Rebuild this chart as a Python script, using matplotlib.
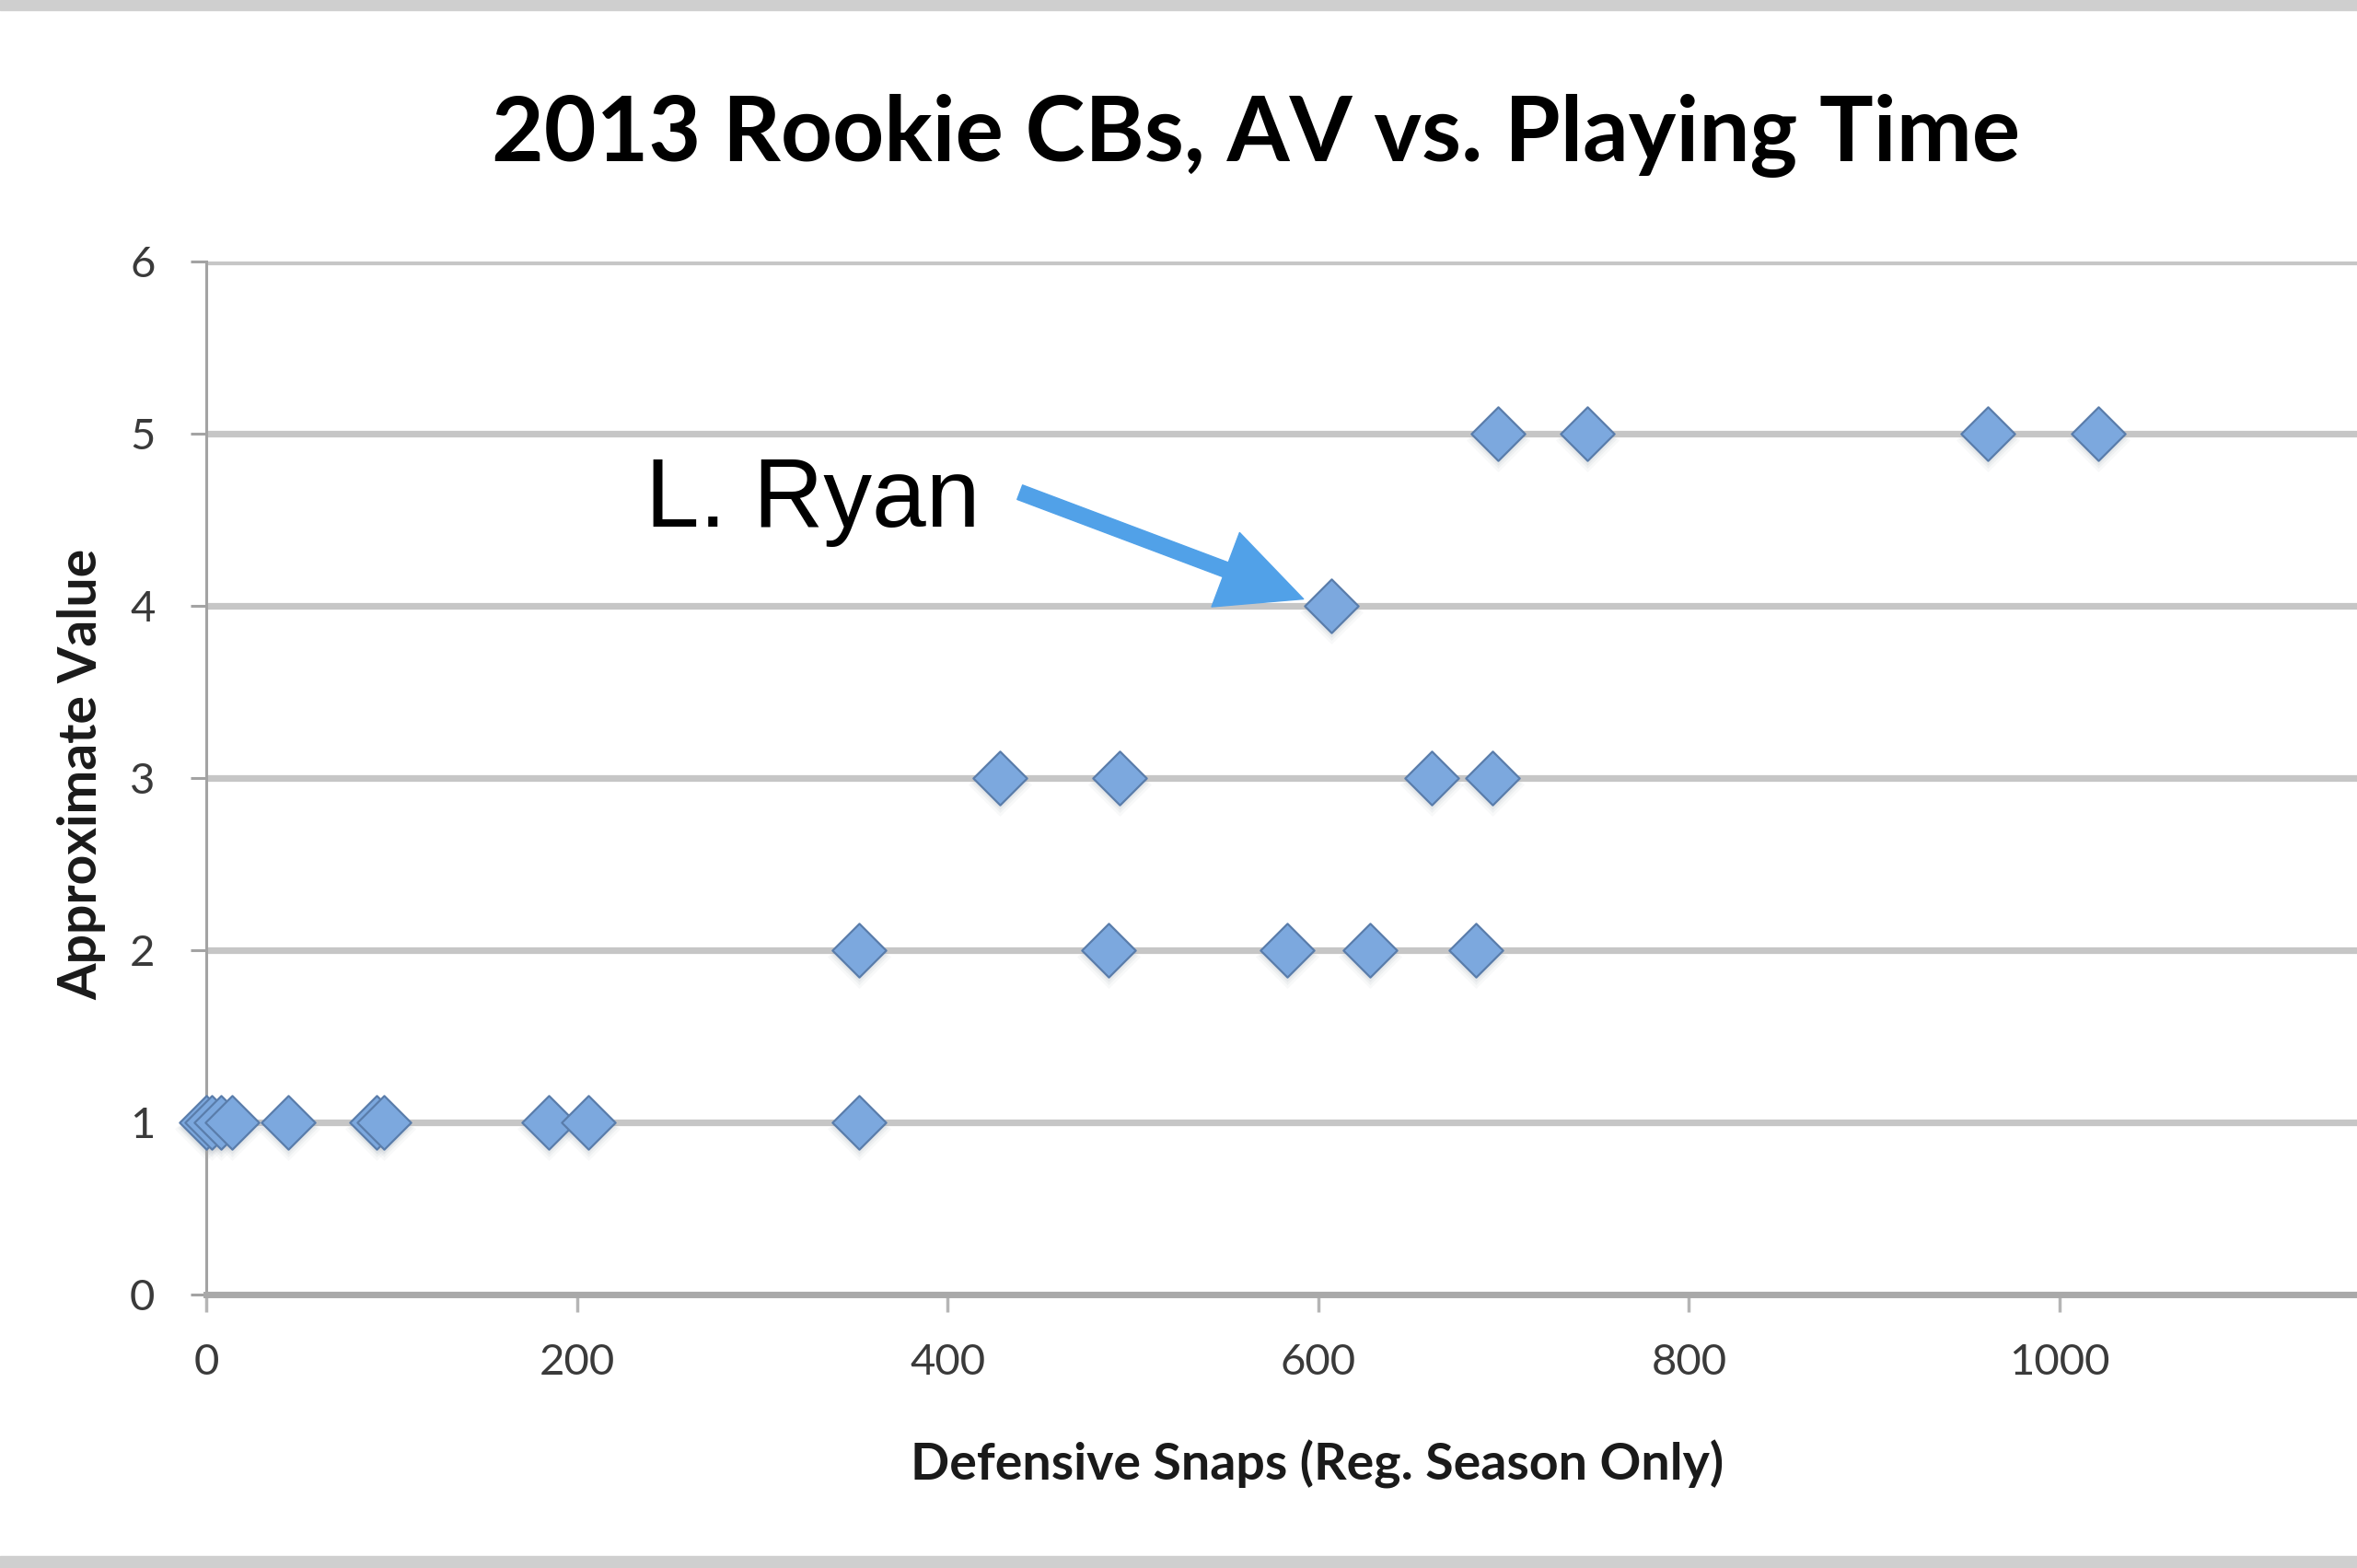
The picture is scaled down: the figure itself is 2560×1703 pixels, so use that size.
import matplotlib
matplotlib.use("Agg")
import matplotlib.pyplot as plt
from matplotlib.path import Path
from matplotlib.transforms import offset_copy
import matplotlib.patches as mpatches

# ---- data ----
snaps = [0, 3, 8, 14, 44, 92, 96, 185, 206, 352,
         352, 487, 583, 628, 685,
         428, 493, 661, 694,
         607,
         697, 745, 961, 1021]
av = [1, 1, 1, 1, 1, 1, 1, 1, 1, 1,
      2, 2, 2, 2, 2,
      3, 3, 3, 3,
      4,
      5, 5, 5, 5]
x_ticks = [0, 200, 400, 600, 800, 1000]
y_ticks = [0, 1, 2, 3, 4, 5, 6]
title = "2013 Rookie CBs, AV vs. Playing Time"
xlabel = "Defensive Snaps (Reg. Season Only)"
ylabel = "Approximate Value"
note_text = "L. Ryan"
note_target = (607, 4)

fig = plt.figure(figsize=(25.6, 17.03), dpi=100)
fig.patch.set_facecolor("white")

# grey frame bands top & bottom
fig.patches.append(mpatches.Rectangle((0, 1 - 11 / 1703), 1, 11 / 1703, transform=fig.transFigure,
                                      color="#cfcfcf", zorder=0))
fig.patches.append(mpatches.Rectangle((0, 0), 1, 13 / 1703, transform=fig.transFigure,
                                      color="#cfcfcf", zorder=0))

ax = fig.add_axes([0.0875, 0.1744, 0.9436, 0.6588])
ax.set_xlim(0, 1200)
ax.set_ylim(0, 6)
ax.set_xticks(x_ticks)
ax.set_yticks(y_ticks)
ax.set_xticklabels([str(t) for t in x_ticks])
ax.set_yticklabels([str(t) for t in y_ticks])

ax.grid(axis="y", color="#c6c6c6", linewidth=5.2, zorder=0)
ax.grid(axis="x", visible=False)
ax.set_axisbelow(True)
for s in ["top", "right"]:
    ax.spines[s].set_visible(False)
ax.spines["bottom"].set_color("#a9a9a9")
ax.spines["bottom"].set_linewidth(5.0)
ax.spines["left"].set_color("#a3a3a3")
ax.spines["left"].set_linewidth(2.2)

ax.tick_params(axis="y", length=12, width=2.2, color="#a3a3a3", pad=28)
ax.tick_params(axis="x", length=14, width=2.5, color="#b5b5b5", pad=24)
for lab in ax.get_xticklabels() + ax.get_yticklabels():
    lab.set_fontfamily("Lato")
    lab.set_fontsize(34)
    lab.set_color("#3a3a3a")

# diamond marker
diamond = Path([(0, 1), (1, 0), (0, -1), (-1, 0), (0, 1)],
               [Path.MOVETO, Path.LINETO, Path.LINETO, Path.LINETO, Path.CLOSEPOLY])

# soft shadow
for dy, scale, alpha in [(-7, 1.18, 0.05), (-6, 1.08, 0.07), (-5, 1.0, 0.09)]:
    tr = offset_copy(ax.transData, fig=fig, x=0, y=dy, units="dots")
    ax.plot(snaps, av, linestyle="none", marker=diamond, markersize=42 * scale,
            markerfacecolor="#7f8a99", markeredgewidth=0, alpha=alpha, transform=tr, zorder=2,
            clip_on=False)

ax.plot(snaps, av, linestyle="none", marker=diamond, markersize=42,
        markerfacecolor="#7ca8de", markeredgecolor="#5a7dab", markeredgewidth=1.6,
        zorder=3, clip_on=False)

# annotation
ax.annotate("", xy=(note_target[0] - 15, note_target[1] + 0.04), xytext=(439, 4.66),
            arrowprops=dict(arrowstyle="simple,head_length=3.25,head_width=3.1,tail_width=0.6",
                            mutation_scale=20, color="#51a1e8", shrinkA=0, shrinkB=0),
            zorder=4)
ax.text(237, 4.46, note_text, fontsize=76, family="Liberation Sans", color="black",
        ha="left", va="baseline", zorder=5)

fig.text(0.533, 0.897, title, fontsize=70.5, fontweight="bold", family="Lato",
         ha="center", va="baseline", color="black")
fig.text(0.559, 0.0558, xlabel, fontsize=40, fontweight="bold", family="Lato",
         ha="center", va="baseline", color="#1a1a1a")
fig.text(0.0345, 0.506, ylabel, fontsize=41, fontweight="bold", family="Lato",
         rotation=90, ha="center", va="center", color="#1a1a1a")

fig.savefig("out.png", dpi=100)
